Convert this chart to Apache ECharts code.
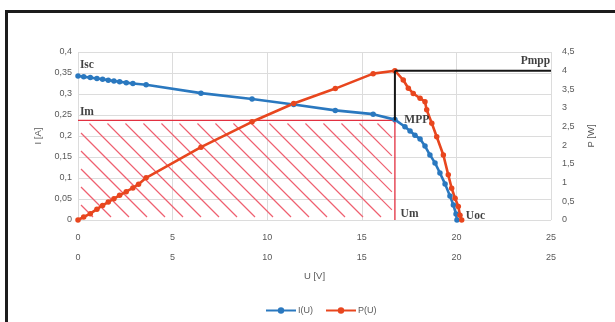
<!DOCTYPE html>
<html>
<head>
<meta charset="utf-8">
<script src="https://cdn.jsdelivr.net/npm/echarts@6/dist/echarts.min.js"></script>
<style>
  html, body { margin: 0; padding: 0; background: #fff; }
  #chart { width: 615px; height: 322px; }
</style>
</head>
<body>
<div id="chart"></div>
<script>
// Current curve I(U) of the PV module
const uI = [0, 0.3, 0.65, 1.0, 1.3, 1.6, 1.9, 2.2, 2.55, 2.9, 3.6, 6.5, 9.2, 11.4, 13.6, 15.6, 16.75,
            17.28, 17.55, 17.81, 18.08, 18.34, 18.6, 18.87, 19.13, 19.4, 19.66, 19.84, 19.98, 20.03];
const iVals = [0.343, 0.341, 0.339, 0.337, 0.335, 0.333, 0.331, 0.329, 0.327, 0.325, 0.322, 0.302, 0.288, 0.275, 0.261, 0.252, 0.239,
               0.222, 0.212, 0.202, 0.193, 0.176, 0.155, 0.136, 0.112, 0.086, 0.057, 0.036, 0.014, 0.0];

// Power curve P(U)
const uP = [0, 0.3, 0.65, 1.0, 1.3, 1.6, 1.9, 2.2, 2.55, 2.9, 3.2, 3.6, 6.5, 9.2, 11.4, 13.6, 15.6, 16.75,
            17.19, 17.46, 17.72, 18.08, 18.34, 18.43, 18.7, 18.96, 19.31, 19.57, 19.75, 19.93, 20.1, 20.19, 20.28];
const pVals = [0, 0.08, 0.17, 0.29, 0.39, 0.48, 0.57, 0.66, 0.76, 0.86, 0.96, 1.13, 1.95, 2.63, 3.12, 3.52, 3.92, 4.0,
               3.75, 3.53, 3.39, 3.26, 3.17, 2.95, 2.59, 2.23, 1.74, 1.21, 0.85, 0.58, 0.36, 0.13, 0.0];

// Maximum power point
const Um = 16.75;
const Im = 0.237;
const Pmpp = 4.0;

// Axis ranges and ticks
const uMin = 0, uMax = 25, uStep = 5;
const iMin = 0, iMax = 0.4, iStep = 0.05;
const pMin = 0, pMax = 4.5, pStep = 0.5;

// Annotation texts: [text, U, I, align]
const notes = [
  ['Isc', 0.1, 0.369, 'left'],
  ['Im', 0.1, 0.258, 'left'],
  ['MPP', 17.25, 0.239, 'left'],
  ['Um', 17.05, 0.014, 'left'],
  ['Uoc', 20.5, 0.01, 'left'],
  ['Pmpp', 24.95, 0.379, 'right']
];

const BLUE = '#2a78bf';
const RED = '#e8461e';
const HATCH = '#ef6070';
const comma = v => String(+v.toFixed(2)).replace('.', ',');
const zip = (a, b) => a.map((x, k) => [x, b[k]]);
const labelFont = { fontFamily: 'Liberation Sans', fontSize: 9, color: '#595959' };
const noteFont = { fontFamily: 'Liberation Serif', fontWeight: 'bold', fontSize: 11.5, color: '#111' };

const chart = echarts.init(document.getElementById('chart'), null, { renderer: 'canvas' });

// Hatched rectangle under the MPP (0..Um, 0..Im)
function renderHatch(params, api) {
  const a = api.coord([0, 0]);
  const b = api.coord([Um, Im]);
  const x0 = a[0], x1 = b[0], y0 = b[1], y1 = a[1];
  const gap = 18;
  const children = [];
  for (let k = x0 - (y1 - y0); k < x1; k += gap) {
    // each stroke follows x - y = c, clipped to the rectangle
    const c = k - y0;
    const xs = Math.max(x0, y0 + c);
    const xe = Math.min(x1, y1 + c);
    if (xe - xs > 1) {
      children.push({
        type: 'line',
        shape: { x1: xs + 3, y1: xs - c + 3, x2: xe - 3, y2: xe - c - 3 },
        style: { stroke: HATCH, lineWidth: 1.2 }
      });
    }
  }
  children.push({
    type: 'polyline',
    shape: { points: [[x0, y0], [x1, y0], [x1, y1]] },
    style: { stroke: '#e23040', lineWidth: 1.3, fill: null }
  });
  return { type: 'group', children };
}

const option = {
  animation: false,
  backgroundColor: '#fff',
  grid: { left: 78, right: 64, top: 52, bottom: 102 },
  legend: {
    data: ['I(U)', 'P(U)'],
    bottom: 2,
    left: 260,
    itemWidth: 30,
    itemHeight: 8,
    itemGap: 12,
    textStyle: Object.assign({ padding: [0, 0, 0, -3] }, labelFont)
  },
  xAxis: [
    {
      type: 'value', min: uMin, max: uMax, interval: uStep,
      axisLine: { show: false }, axisTick: { show: false },
      axisLabel: Object.assign({ margin: 13 }, labelFont),
      splitLine: { show: true, lineStyle: { color: '#dcdcdc', width: 1 } }
    },
    {
      type: 'value', min: uMin, max: uMax, interval: uStep, position: 'bottom', offset: 20,
      axisLine: { show: false }, axisTick: { show: false },
      axisLabel: Object.assign({ margin: 13 }, labelFont),
      splitLine: { show: false },
      name: 'U [V]', nameLocation: 'middle', nameGap: 31,
      nameTextStyle: Object.assign({}, labelFont, { fontSize: 9.5 })
    }
  ],
  yAxis: [
    {
      type: 'value', min: iMin, max: iMax, interval: iStep, position: 'left',
      axisLine: { show: false }, axisTick: { show: false },
      axisLabel: Object.assign({ margin: 6, formatter: comma }, labelFont),
      splitLine: { show: true, lineStyle: { color: '#dcdcdc', width: 1 } },
      name: 'I [A]', nameLocation: 'middle', nameGap: 35, nameRotate: 90,
      nameTextStyle: Object.assign({}, labelFont, { fontSize: 9.5 })
    },
    {
      type: 'value', min: pMin, max: pMax, interval: pStep, position: 'right',
      axisLine: { show: false }, axisTick: { show: false },
      axisLabel: Object.assign({ margin: 11, formatter: comma }, labelFont),
      splitLine: { show: false },
      name: 'P [W]', nameLocation: 'middle', nameGap: 35, nameRotate: 90,
      nameTextStyle: Object.assign({}, labelFont, { fontSize: 9.5 })
    }
  ],
  series: [
    {
      name: 'hatch', type: 'custom', xAxisIndex: 0, yAxisIndex: 0,
      renderItem: renderHatch, data: [[Um, Im]], z: 1, silent: true
    },
    {
      name: 'I(U)', type: 'line', xAxisIndex: 0, yAxisIndex: 0,
      data: zip(uI, iVals),
      symbol: 'circle', symbolSize: 5.5, showSymbol: true,
      lineStyle: { color: BLUE, width: 2.6 },
      itemStyle: { color: BLUE },
      z: 4
    },
    {
      name: 'P(U)', type: 'line', xAxisIndex: 0, yAxisIndex: 1,
      data: zip(uP, pVals),
      symbol: 'circle', symbolSize: 5.5, showSymbol: true,
      lineStyle: { color: RED, width: 2.6 },
      itemStyle: { color: RED },
      z: 4
    },
    {
      // horizontal Pmpp guide
      name: 'pmppLine', type: 'line', xAxisIndex: 0, yAxisIndex: 1,
      data: [[Um, Pmpp], [uMax, Pmpp]],
      symbol: 'none', lineStyle: { color: '#151515', width: 2 }, z: 5, silent: true
    },
    {
      // vertical guide from the MPP up to Pmpp (Pmpp expressed on the current axis)
      name: 'mppLine', type: 'line', xAxisIndex: 0, yAxisIndex: 0,
      data: [[Um, Im], [Um, Pmpp * (iMax / pMax)]],
      symbol: 'none', lineStyle: { color: '#151515', width: 2 }, z: 5, silent: true
    },
    {
      name: 'notes', type: 'scatter', xAxisIndex: 0, yAxisIndex: 0,
      symbolSize: 0, silent: true, z: 6,
      data: notes.map(n => ({
        value: [n[1], n[2]], name: n[0],
        label: { show: true, position: [0, 0], align: n[3], verticalAlign: 'middle', formatter: n[0] }
      })),
      label: Object.assign({ show: true }, noteFont)
    }
  ],
  graphic: [
    { type: 'line', shape: { x1: 5, y1: 11.5, x2: 615, y2: 11.5 }, style: { stroke: '#1c1c1c', lineWidth: 3 } },
    { type: 'line', shape: { x1: 6.5, y1: 10, x2: 6.5, y2: 322 }, style: { stroke: '#1c1c1c', lineWidth: 3 } }
  ]
};

chart.setOption(option);
</script>
</body>
</html>
